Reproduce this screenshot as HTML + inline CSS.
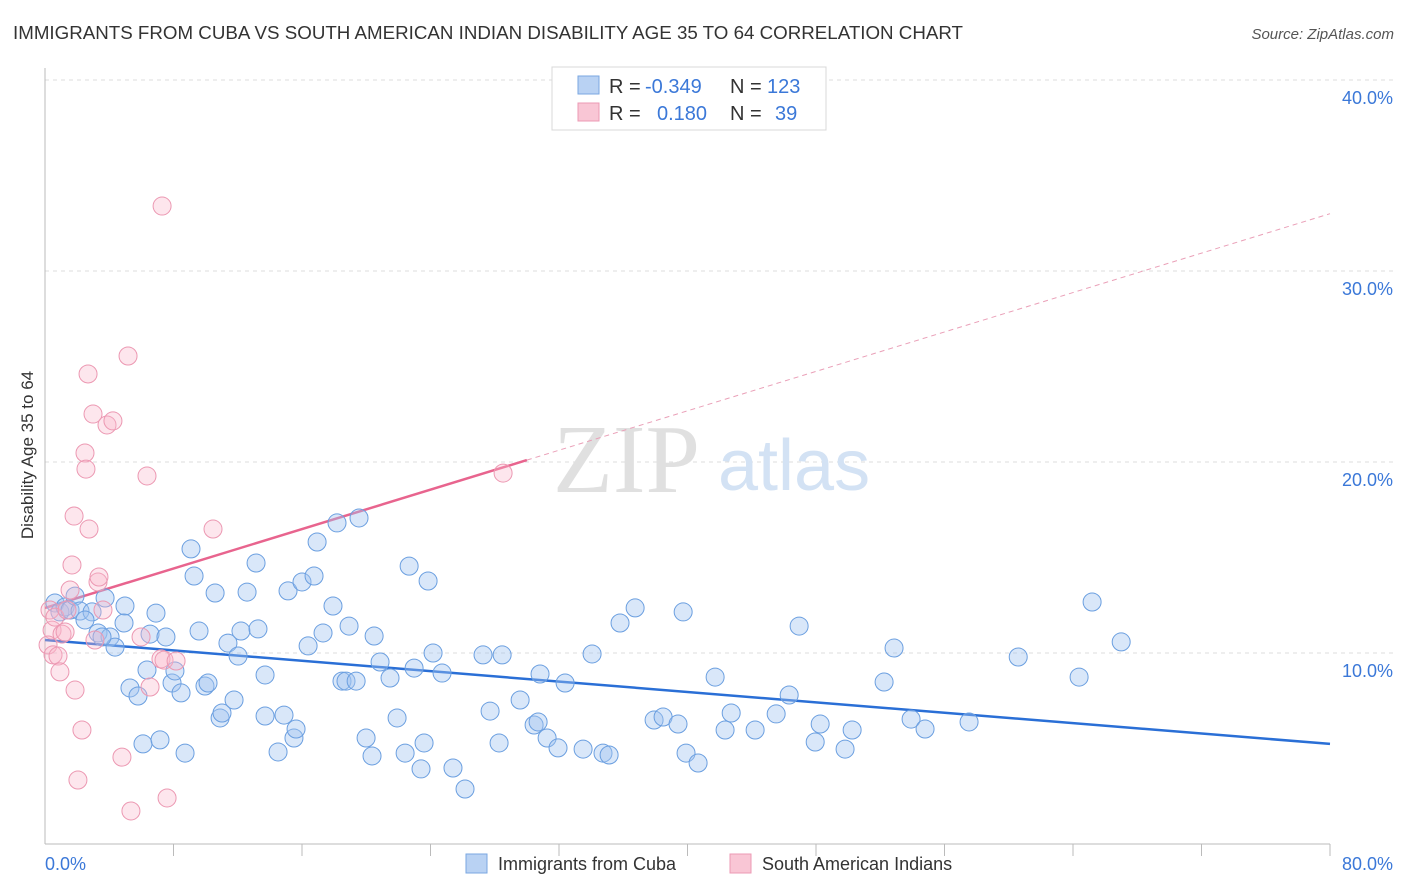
<!DOCTYPE html>
<html><head><meta charset="utf-8"><style>
html,body{margin:0;padding:0;background:#fff;}
svg{display:block;font-family:"Liberation Sans",sans-serif;}
</style></head><body>
<svg id="chart" width="1406" height="892" viewBox="0 0 1406 892">
<text x="13" y="39" font-size="18" fill="#333" textLength="950" lengthAdjust="spacingAndGlyphs">IMMIGRANTS FROM CUBA VS SOUTH AMERICAN INDIAN DISABILITY AGE 35 TO 64 CORRELATION CHART</text>
<text x="1394" y="39" font-size="15" fill="#555" font-style="italic" text-anchor="end">Source: ZipAtlas.com</text>
<g id="grid"></g>
<g>
<text x="553" y="492" font-family="Liberation Serif, serif" font-size="98" fill="#e0e0e0">ZIP</text>
<text x="718" y="490" font-size="72" fill="#d3e2f4">atlas</text>
</g>
<g id="axes"></g>
<g id="lines"></g>
<g id="points"></g>
<text transform="translate(33,455) rotate(-90)" font-size="17" fill="#333" text-anchor="middle">Disability Age 35 to 64</text>
<g>
<rect x="552" y="67" width="274" height="63" fill="#fff" stroke="#d8d8d8"/>
<rect x="578" y="76" width="21" height="18" fill="#b9d2f3" stroke="#7aa7e2"/>
<rect x="578" y="103" width="21" height="18" fill="#f9c6d5" stroke="#ec9ab4"/>
<text x="609" y="93" font-size="20" fill="#333">R = <tspan fill="#3b78d8" x="645">-0.349</tspan></text>
<text x="730" y="93" font-size="20" fill="#333">N = <tspan fill="#3b78d8" x="767">123</tspan></text>
<text x="609" y="120" font-size="20" fill="#333">R = <tspan fill="#3b78d8" x="657">0.180</tspan></text>
<text x="730" y="120" font-size="20" fill="#333">N = <tspan fill="#3b78d8" x="775">39</tspan></text>
</g>
<g>
<rect x="466" y="854" width="21" height="19" fill="#b9d2f3" stroke="#7aa7e2"/>
<text x="498" y="870" font-size="18" fill="#333">Immigrants from Cuba</text>
<rect x="730" y="854" width="21" height="19" fill="#f9c6d5" stroke="#ec9ab4"/>
<text x="762" y="870" font-size="18" fill="#333">South American Indians</text>
</g>
</svg>
<script>
const yTicks = [10, 20, 30, 40];
const yTickLabels = ["10.0%", "20.0%", "30.0%", "40.0%"];
const xLabels = ["0.0%", "80.0%"];
const cubaX = [0.62,0.93,1.25,1.56,1.87,2.18,2.93,2.49,3.30,3.74,4.05,4.36,3.55,4.98,4.92,5.29,5.79,6.10,6.54,6.91,6.35,7.16,7.53,7.91,8.09,8.47,8.72,9.09,9.28,9.59,9.96,10.15,10.59,10.90,11.02,11.39,11.77,12.02,12.20,12.58,13.14,13.26,13.70,13.70,14.51,14.88,15.13,15.50,15.63,16.00,16.38,16.75,16.94,17.31,17.93,18.18,18.49,18.74,18.93,19.37,19.55,19.99,20.36,20.49,20.86,21.48,21.92,22.42,22.67,22.98,23.41,23.60,23.85,24.16,24.72,25.40,26.15,27.27,27.71,28.27,28.46,29.58,30.45,30.70,30.82,31.26,31.94,32.38,33.50,34.06,34.74,35.12,35.80,36.74,37.92,38.48,39.41,39.73,39.91,40.66,41.72,42.34,42.72,44.21,45.52,46.33,46.95,47.95,48.26,49.81,50.25,52.24,52.86,53.92,54.79,57.53,60.59,64.38,65.19,67.00];
const cubaY = [12.62,12.15,12.41,12.25,12.98,12.20,12.15,11.73,11.05,12.88,10.84,10.31,10.84,12.46,11.57,8.17,7.75,5.24,10.99,12.09,9.11,5.45,10.84,8.43,9.06,7.91,4.76,15.45,14.03,11.15,8.27,8.43,13.14,6.60,6.86,10.52,7.54,9.84,11.15,13.19,14.71,11.26,8.85,6.70,4.82,6.75,13.25,5.55,6.02,13.72,10.37,14.03,15.81,11.05,12.46,16.81,8.53,8.53,11.41,8.53,17.07,5.55,4.61,10.89,9.53,8.69,6.60,4.76,14.55,9.21,3.93,5.29,13.77,10.00,8.95,3.98,2.88,9.90,6.96,5.29,9.90,7.54,6.23,6.39,8.90,5.55,5.03,8.43,4.97,9.95,4.76,4.66,11.57,12.36,6.49,6.65,6.28,12.15,4.76,4.24,8.74,5.97,6.86,5.97,6.81,7.80,11.41,5.34,6.28,4.97,5.97,8.48,10.26,6.54,6.02,6.39,9.79,8.74,12.67,10.58];
const saiX = [0.31,0.44,0.19,0.50,0.81,0.93,0.62,1.06,1.25,1.37,1.56,1.68,1.81,1.87,2.30,2.05,2.49,2.55,2.74,2.68,2.99,3.11,3.30,3.36,3.61,3.86,4.23,4.79,5.17,5.35,5.98,6.35,6.54,7.22,7.29,7.41,7.60,8.16,10.46,28.52];
const saiY = [12.25,11.20,10.42,9.90,9.84,9.01,11.88,10.99,11.10,12.25,13.30,14.61,17.17,8.06,5.97,3.35,20.47,19.63,16.49,24.61,22.51,10.68,13.72,13.98,12.25,21.94,22.15,4.55,25.55,1.73,10.84,19.27,8.22,9.69,33.40,9.63,2.41,9.58,16.49,19.42];
const cubaTrend = [10.68, 5.24];
const saiTrend = [12.36, 0.258];

const NS = "http://www.w3.org/2000/svg";
const xs = v => 45 + v / 80 * 1285;
const ys = v => 844 - v * 19.1;
function mk(tag, attrs, parent) {
  const e = document.createElementNS(NS, tag);
  for (const k in attrs) e.setAttribute(k, attrs[k]);
  parent.appendChild(e);
  return e;
}
const grid = document.getElementById("grid");
const axes = document.getElementById("axes");
yTicks.forEach((t, i) => {
  const l = mk("line", {x1: 45, x2: 1393, y1: ys(t), y2: ys(t), stroke: "#dcdcdc", "stroke-dasharray": "4,4"}, grid);
  
  
  const tx = mk("text", {x: 1393, y: ys(t) + 24, "font-size": 18, fill: "#3b78d8", "text-anchor": "end"}, axes);
  tx.textContent = yTickLabels[i];
  
  
});
const xa = mk("line", {x1: 45, x2: 1330, y1: 844, y2: 844, stroke: "#bbb"}, axes);


const ya = mk("line", {x1: 45, x2: 45, y1: 68, y2: 844, stroke: "#bbb"}, axes);


for (let i = 1; i <= 10; i++) {
  const t = mk("line", {x1: xs(i * 8), x2: xs(i * 8), y1: 844, y2: 856, stroke: "#bbb"}, axes);
  
  
}
const xl0 = mk("text", {x: 45, y: 870, "font-size": 18, fill: "#3b78d8"}, axes);
xl0.textContent = xLabels[0];


const xl1 = mk("text", {x: 1393, y: 870, "font-size": 18, fill: "#3b78d8", "text-anchor": "end"}, axes);
xl1.textContent = xLabels[1];



const pts = document.getElementById("points");
cubaX.forEach((x, i) => {
  const c = mk("circle", {cx: xs(x), cy: ys(cubaY[i]), r: 9, fill: "rgba(160,196,240,0.4)", stroke: "#6b9fe0", "stroke-width": 1}, pts);
  
  
});
saiX.forEach((x, i) => {
  const c = mk("circle", {cx: xs(x), cy: ys(saiY[i]), r: 9, fill: "rgba(248,182,202,0.35)", stroke: "#ec98b2", "stroke-width": 1}, pts);
  
  
});
const lines = document.getElementById("lines");
const bl = mk("line", {x1: xs(0), y1: ys(cubaTrend[0]), x2: xs(80), y2: ys(cubaTrend[1]), stroke: "#2a6fd6", "stroke-width": 2.5}, lines);


const pl = mk("line", {x1: xs(0), y1: ys(saiTrend[0]), x2: xs(30), y2: ys(saiTrend[0] + saiTrend[1] * 30), stroke: "#e8648e", "stroke-width": 2.5}, lines);


const pd = mk("line", {x1: xs(30), y1: ys(saiTrend[0] + saiTrend[1] * 30), x2: xs(80), y2: ys(saiTrend[0] + saiTrend[1] * 80), stroke: "#eaa0b8", "stroke-width": 1, "stroke-dasharray": "5,4"}, lines);


</script>
</body></html>
